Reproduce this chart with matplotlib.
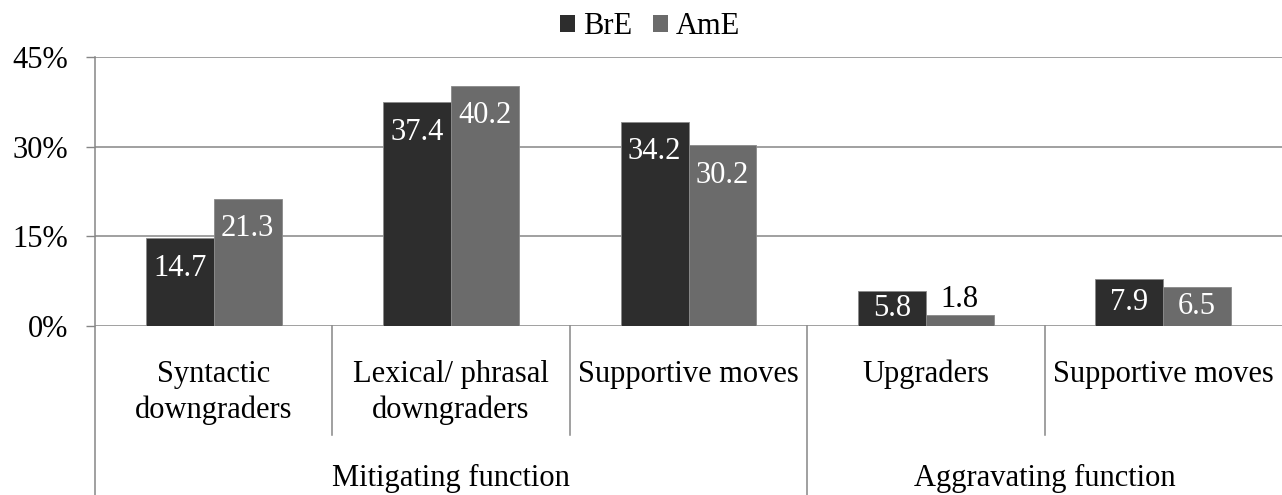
import matplotlib
matplotlib.use('Agg')
import matplotlib.pyplot as plt
from matplotlib.patches import Patch

plt.rcParams['font.family'] = ['Liberation Serif', 'DejaVu Serif']

categories = ['Syntactic\ndowngraders', 'Lexical/ phrasal\ndowngraders', 'Supportive moves',
              'Upgraders', 'Supportive moves']
groups = ['Mitigating function', 'Aggravating function']
group_sizes = [3, 2]
series = ['BrE', 'AmE']
bre = [14.7, 37.4, 34.2, 5.8, 7.9]
ame = [21.3, 40.2, 30.2, 1.8, 6.5]
yticks = [0, 15, 30, 45]

colors = ['#2d2d2d', '#6b6b6b']
line_col = '#868686'
fs = 22

fig = plt.figure(figsize=(12.82, 4.95), dpi=100)
ax = fig.add_axes([95 / 1282, (495 - 326) / 495, 1187 / 1282, 269 / 495])

x = list(range(len(categories)))
w = 0.286
for i, (vals, name) in enumerate(zip([bre, ame], series)):
    pos = [p + (i - 0.5) * w for p in x]
    bars = ax.bar(pos, vals, width=w, color=colors[i], edgecolor='#8a8a8a',
                  linewidth=0.6, label=name, zorder=3)
    for b, v in zip(bars, vals):
        cx = b.get_x() + b.get_width() / 2
        if v > 4:
            # inside end, kept within the bar for short ones
            ax.text(cx, v - min(5.0, v / 2), '{:.1f}'.format(v), ha='center', va='center',
                    color='white', fontsize=fs, zorder=4)
        else:
            ax.text(cx, v + 2.7, '{:.1f}'.format(v), ha='center', va='center',
                    color='black', fontsize=fs, zorder=4)

ax.set_xlim(-0.5, len(categories) - 0.5)
ax.set_ylim(0, 45)
ax.set_yticks(yticks)
ax.set_yticklabels(['{}%'.format(t) for t in yticks], fontsize=fs)
ax.tick_params(axis='y', length=6.5, width=1, color=line_col, pad=13)
ax.set_xticks([])
for t in yticks:
    ax.axhline(t, color=line_col, linewidth=1.1, zorder=1)
for s in ax.spines.values():
    s.set_visible(False)

# two-level category axis
tr = ax.get_xaxis_transform()
bottom = -169 / 269
short = -109 / 269
ax.plot([-0.5, -0.5], [1, bottom], color=line_col, lw=1.1, transform=tr, clip_on=False)
for i, c in enumerate(categories):
    ax.text(i, -0.125, c, transform=tr, ha='center', va='top', fontsize=fs,
            linespacing=1.32)
start = 0
for g, n in zip(groups, group_sizes):
    mid = start + (n - 1) / 2
    ax.text(mid, -160 / 269, g, transform=tr, ha='center', va='baseline', fontsize=fs)
    for k in range(start, start + n - 1):
        ax.plot([k + 0.5, k + 0.5], [0, short], color=line_col, lw=1.1,
                transform=tr, clip_on=False)
    start += n
    if start < len(categories):
        ax.plot([start - 0.5, start - 0.5], [0, bottom], color=line_col, lw=1.1,
                transform=tr, clip_on=False)

handles = [Patch(facecolor=c, edgecolor='none') for c in colors]
fig.legend(handles, series, loc='center', bbox_to_anchor=(650 / 1282, 1 - 27 / 495),
           ncol=2, frameon=False, fontsize=fs, handlelength=0.5, handleheight=0.5,
           handletextpad=0.25, columnspacing=0.7, borderpad=0)

fig.savefig('out.png', dpi=100)
